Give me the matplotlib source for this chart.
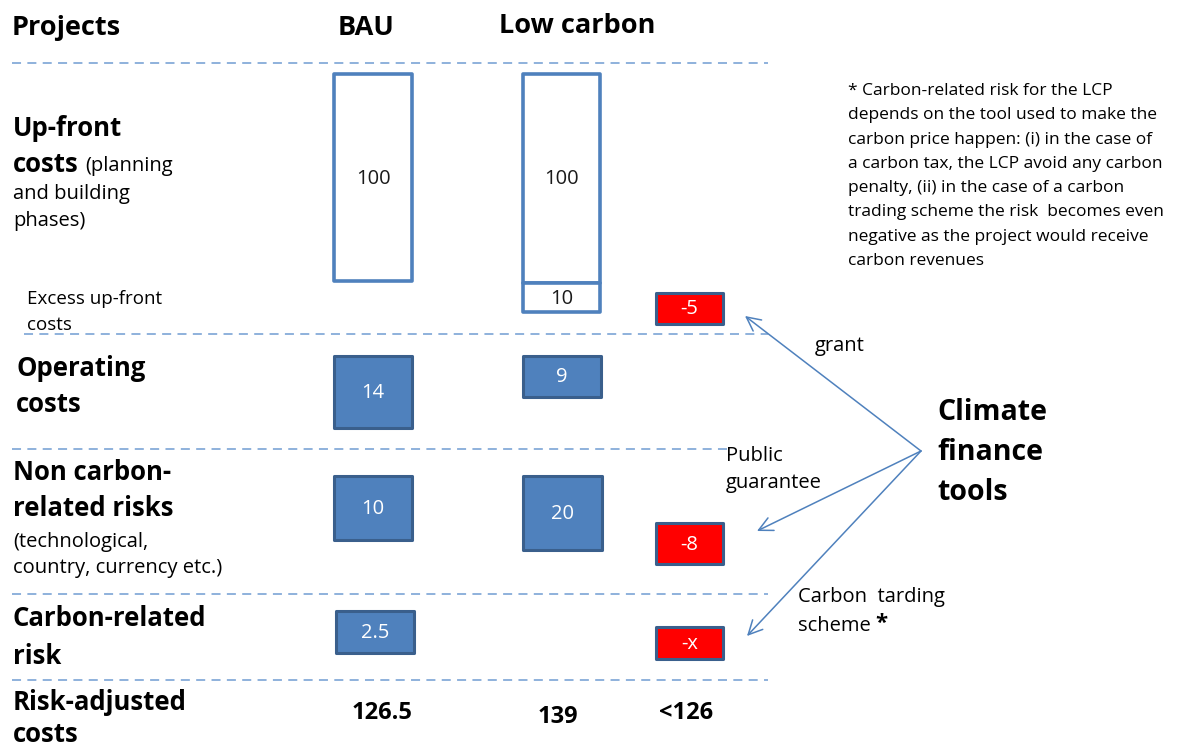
import matplotlib
matplotlib.use("Agg")
import matplotlib.pyplot as plt
from matplotlib.patches import Rectangle

# ---------------- data ----------------
columns = ["BAU", "Low carbon"]
row_names = ["Up-front costs", "Excess up-front costs", "Operating costs",
             "Non carbon-related risks", "Carbon-related risk"]
bau_values = ["100", None, "14", "10", "2.5"]
low_carbon_values = ["100", "10", "9", "20", None]
climate_finance_values = [None, "-5", None, "-8", "-x"]
risk_adjusted_totals = ["126.5", "139", "<126"]
tool_names = ["grant", "Public\nguarantee", "Carbon  tarding\nscheme"]
note_lines = ["* Carbon-related risk for the LCP",
              "depends on the tool used to make the",
              "carbon price happen: (i) in the case of",
              "a carbon tax, the LCP avoid any carbon",
              "penalty, (ii) in the case of a carbon",
              "trading scheme the risk  becomes even",
              "negative as the project would receive",
              "carbon revenues"]

# ---------------- layout (pixel space) ----------------
W, H = 1190, 749
FONT = ["Open Sans", "DejaVu Sans"]
plt.rcParams["font.family"] = FONT

fig = plt.figure(figsize=(W / 100, H / 100), dpi=100)
ax = fig.add_axes([0, 0, 1, 1])
ax.set_xlim(0, W)
ax.set_ylim(H, 0)
ax.axis("off")

LINE_BLUE = "#4F81BD"
DASH_BLUE = "#86ABD9"
EDGE_DARK = "#3A5F8C"
FILL_BLUE = "#4F81BD"
RED = "#FF0000"

# dashed separators: (y, x0, x1)
separators = [(63, 12, 768), (334, 24, 768), (449, 12, 730), (594, 12, 768), (680, 12, 768)]
for y, x0, x1 in separators:
    ax.plot([x0, x1], [y, y], color=DASH_BLUE, lw=1.3, dashes=(5, 3.5))

# box geometry per row: (x0, x1, y0, y1)
bau_boxes = [(334, 412, 74, 281), None, (334, 412, 356, 428), (334, 412, 476, 540), (336, 414, 611, 653)]
lc_boxes = [(523, 600, 74, 283), (523, 600, 283, 312), (523, 601, 356, 397), (523, 602, 476, 550), None]
cf_boxes = [None, (656, 723, 293, 324), None, (656, 723, 523, 564), (656, 723, 627, 659)]
outline_rows = [0, 1]  # rows drawn as outlined (white) boxes
BOXFS = 14.5


def draw_box(geom, label, kind):
    x0, x1, y0, y1 = geom
    if kind == "outline":
        r = Rectangle((x0, y0), x1 - x0, y1 - y0, facecolor="white",
                      edgecolor=LINE_BLUE, lw=2.6, joinstyle="round")
        col = "#1a1a1a"
    elif kind == "blue":
        r = Rectangle((x0, y0), x1 - x0, y1 - y0, facecolor=FILL_BLUE,
                      edgecolor=EDGE_DARK, lw=2.2, joinstyle="round")
        col = "white"
    else:
        r = Rectangle((x0, y0), x1 - x0, y1 - y0, facecolor=RED,
                      edgecolor=EDGE_DARK, lw=2.2, joinstyle="round")
        col = "white"
    ax.add_patch(r)
    ax.text((x0 + x1) / 2, (y0 + y1) / 2 + 1, label, ha="center", va="center",
            fontsize=BOXFS, color=col)


for i in range(len(row_names)):
    kind = "outline" if i in outline_rows else "blue"
    if bau_values[i] is not None:
        draw_box(bau_boxes[i], bau_values[i], kind)
    if low_carbon_values[i] is not None:
        draw_box(lc_boxes[i], low_carbon_values[i], kind)
    if climate_finance_values[i] is not None:
        draw_box(cf_boxes[i], climate_finance_values[i], "red")

# header
HEAD = 19.5
ax.text(12, 28, "Projects", fontsize=HEAD, fontweight="bold", va="center", ha="left")
ax.text(366, 28, columns[0], fontsize=HEAD, fontweight="bold", va="center", ha="center")
ax.text(577, 26, columns[1], fontsize=HEAD, fontweight="bold", va="center", ha="center")

BIG = 18.5
SMALL = 14.5
# row labels
ax.text(13, 128, "Up-front", fontsize=BIG, fontweight="bold", va="center")
t_costs = ax.text(13, 165, "costs", fontsize=BIG, fontweight="bold", va="center")
ax.text(13, 194, "and building", fontsize=SMALL, va="center")
ax.text(13, 221, "phases)", fontsize=SMALL, va="center")
ax.text(27, 299, "Excess up-front", fontsize=13.5, va="center")
ax.text(27, 325, "costs", fontsize=13.5, va="center")
ax.text(16, 369, "Operating", fontsize=BIG, fontweight="bold", va="center")
ax.text(16, 405, "costs", fontsize=BIG, fontweight="bold", va="center")
ax.text(13, 473, "Non carbon-", fontsize=BIG, fontweight="bold", va="center")
ax.text(13, 509, "related risks", fontsize=BIG, fontweight="bold", va="center")
ax.text(13, 542, "(technological,", fontsize=SMALL, va="center")
ax.text(13, 568, "country, currency etc.)", fontsize=SMALL, va="center")
ax.text(13, 619, "Carbon-related", fontsize=BIG, fontweight="bold", va="center")
ax.text(13, 656, "risk", fontsize=BIG, fontweight="bold", va="center")
ax.text(13, 702, "Risk-adjusted", fontsize=BIG, fontweight="bold", va="center")
ax.text(13, 734, "costs", fontsize=BIG, fontweight="bold", va="center")

# totals
total_x = [382, 558, 686]
total_y = [713, 717, 713]
for tx, ty, tv in zip(total_x, total_y, risk_adjusted_totals):
    ax.text(tx, ty, tv, fontsize=17, fontweight="bold", ha="center", va="center")

# climate finance tools
for k, word in enumerate(["Climate", "finance", "tools"]):
    ax.text(937, 412 + k * 40, word, fontsize=20.5, fontweight="bold",
            va="center", ha="left")
origin = (921, 451)
tips = [(745, 316), (757, 531), (747, 636)]
for tip in tips:
    ax.annotate("", xy=tip, xytext=origin,
                arrowprops=dict(arrowstyle="->,head_length=1.0,head_width=0.5",
                                color=LINE_BLUE, lw=1.1, shrinkA=0, shrinkB=0))

ax.text(815, 346, tool_names[0], fontsize=SMALL, va="center")
pg = tool_names[1].split("\n")
ax.text(726, 456, pg[0], fontsize=SMALL, va="center")
ax.text(726, 483, pg[1], fontsize=SMALL, va="center")
cs = tool_names[2].split("\n")
ax.text(798, 597, cs[0], fontsize=SMALL, va="center")
scheme = ax.text(798, 626, cs[1], fontsize=SMALL, va="center")

# note
for k, line in enumerate(note_lines):
    ax.text(848, 91 + k * 24.3, line, fontsize=12.5, va="center")

# mixed-weight continuations
fig.canvas.draw()
r = fig.canvas.get_renderer()
bb = t_costs.get_window_extent(r)
x_after = ax.transData.inverted().transform((bb.x1, bb.y0))[0]
ax.text(x_after + 6, 166, "(planning", fontsize=SMALL, va="center")

bb = scheme.get_window_extent(r)
x_after = ax.transData.inverted().transform((bb.x1, bb.y0))[0]
ax.text(x_after + 5, 623, "*", fontsize=16, fontweight="bold", va="center")

fig.savefig("out.png", dpi=100)
